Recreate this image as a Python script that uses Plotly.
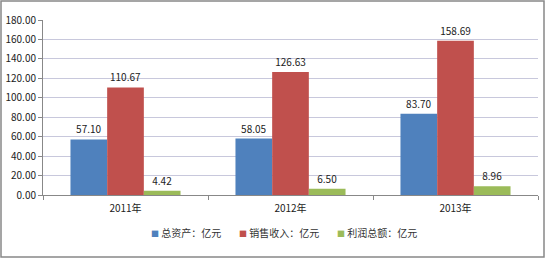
import plotly.graph_objects as go

categories = ["2011年", "2012年", "2013年"]
series_names = ["总资产：亿元", "销售收入：亿元", "利润总额：亿元"]
assets = [57.10, 58.05, 83.70]
sales = [110.67, 126.63, 158.69]
profit = [4.42, 6.50, 8.96]
colors = ["#4F81BD", "#C0504D", "#9BBB59"]
y_ticks = [0, 20, 40, 60, 80, 100, 120, 140, 160, 180]

font = "Noto Sans CJK SC, SimSun, sans-serif"
fig = go.Figure()
for name, vals, c in zip(series_names, [assets, sales, profit], colors):
    fig.add_trace(go.Bar(
        x=categories, y=vals, name=name, marker=dict(color=c, line=dict(width=0)),
        text=[f"{v:.2f}" for v in vals], textposition="outside",
        textfont=dict(size=10, color="#222222", family=font), cliponaxis=False,
        showlegend=False,
    ))

W, H = 547, 259
ml, mr, mt, mb = 43, 9, 20, 64
pw, ph = W - ml - mr, H - mt - mb

# legend drawn as annotations
leg_x = [149, 237, 335]
annotations = []
for name, c, lx in zip(series_names, colors, leg_x):
    annotations.append(dict(
        xref="paper", yref="paper", x=(lx - ml) / pw, y=-(232 - (H - mb)) / ph,
        xanchor="left", yanchor="middle", showarrow=False,
        text=f'<span style="color:{c};font-size:8px">■</span> {name}',
        font=dict(size=10, color="#333333", family=font),
    ))

fig.update_layout(
    width=W, height=H,
    margin=dict(l=ml, r=mr, t=mt, b=mb, autoexpand=False),
    paper_bgcolor="white", plot_bgcolor="white",
    barmode="group", bargap=0.333, bargroupgap=0,
    font=dict(family=font, size=10, color="#222222"),
    showlegend=False,
    annotations=annotations,
    xaxis=dict(showline=True, linecolor="#888888", linewidth=1, ticks="outside",
               tickson="boundaries", ticklen=4, tickcolor="#888888",
               tickfont=dict(size=10), showgrid=False, automargin=False,
               ticklabelstandoff=4),
    yaxis=dict(range=[0, 180], tickvals=y_ticks,
               ticktext=[f"{v:.2f}" for v in y_ticks],
               showline=True, linecolor="#888888", linewidth=1,
               ticks="outside", ticklen=4, tickcolor="#888888",
               gridcolor="#C8C8DC", gridwidth=1, zeroline=False,
               tickfont=dict(size=10), automargin=False),
    shapes=[dict(type="rect", xref="paper", yref="paper",
                 x0=(1 - ml) / pw, x1=(544 - ml) / pw,
                 y0=-(257 - (H - mb)) / ph, y1=1 + (mt - 1) / ph,
                 line=dict(color="#888888", width=1.5), layer="below")],
)
fig.write_html("out.html")
